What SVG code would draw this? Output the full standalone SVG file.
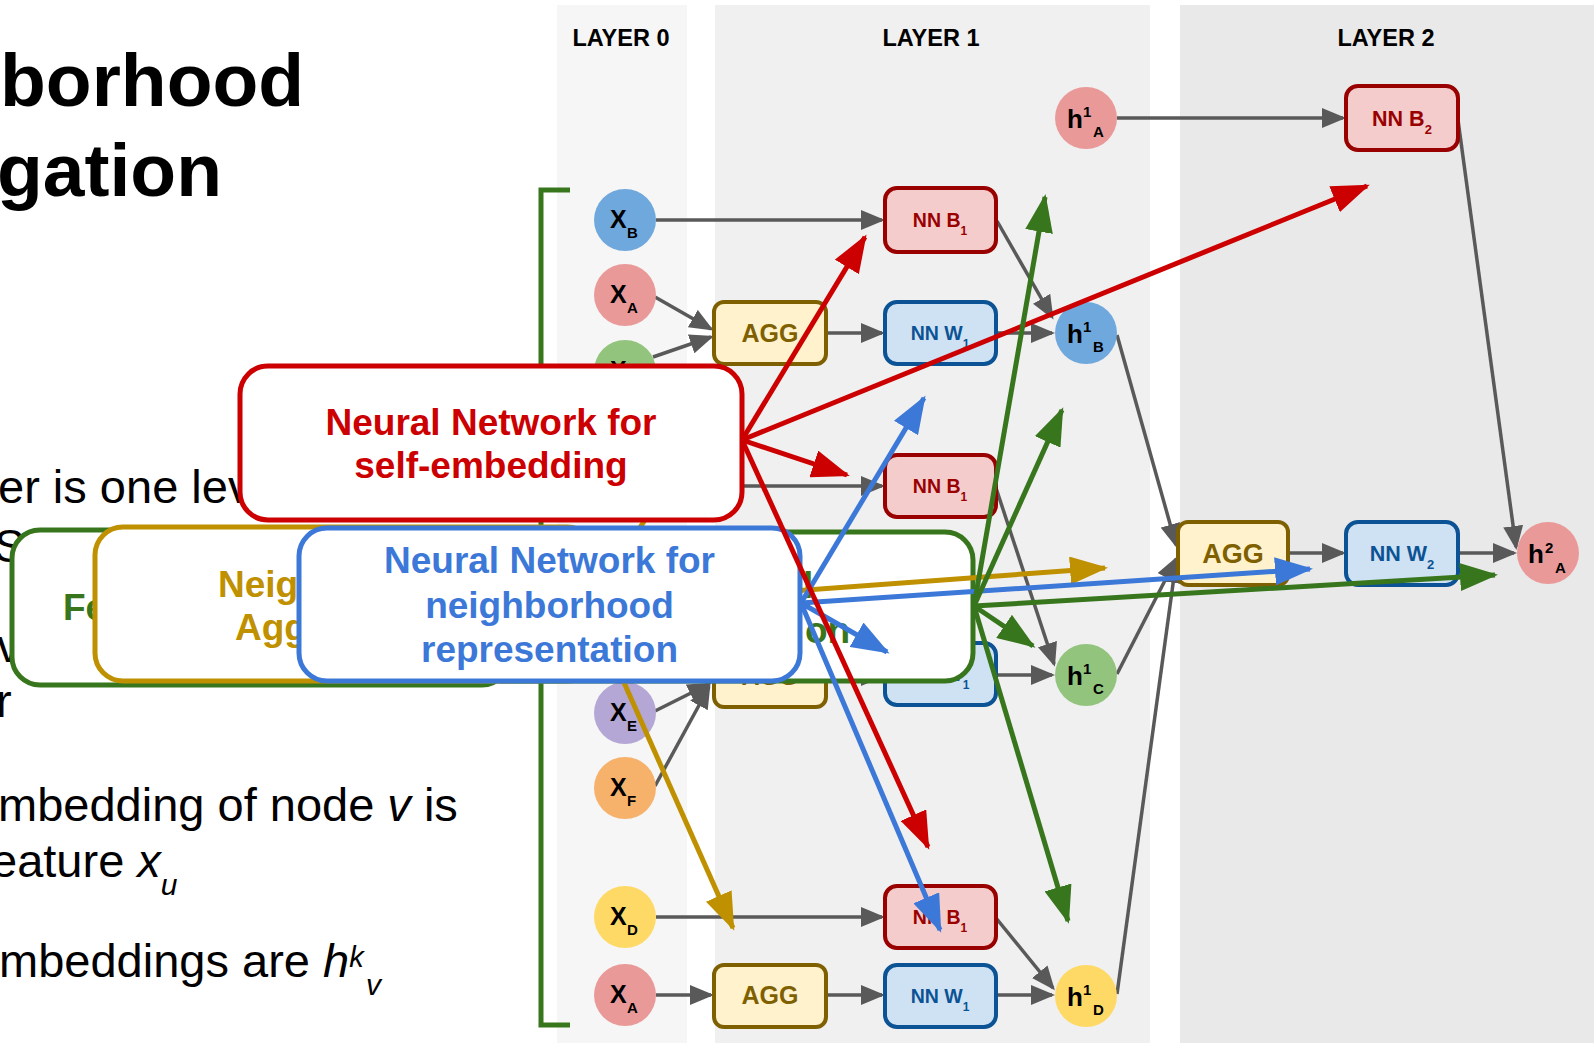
<svg xmlns="http://www.w3.org/2000/svg" width="1594" height="1043" viewBox="0 0 1594 1043">
  <defs>
    <style>
      .title { font-family: "Liberation Sans", Arial, sans-serif; font-weight: bold; font-size: 75px; fill: #000; }
      .body { font-family: "Liberation Sans", Arial, sans-serif; font-size: 47px; fill: #000; }
      .layer { font-family: "Liberation Sans", Arial, sans-serif; font-weight: bold; font-size: 23.5px; fill: #000; text-anchor: middle; }
      .lbl { font-family: "Liberation Sans", Arial, sans-serif; font-weight: bold; fill: #000; }
      .xl { font-size: 25px; }
      .hl { font-size: 26px; }
      .sm { font-size: 15px; }
      .nnb { fill: #f4cccc; stroke: #990000; stroke-width: 4; }
      .nnw { fill: #cfe2f3; stroke: #0b5394; stroke-width: 4; }
      .agg { fill: #fff2cc; stroke: #7f6000; stroke-width: 4; }
      .tb { font-family: "Liberation Sans", Arial, sans-serif; font-weight: bold; text-anchor: middle; }
      .tnnb { fill: #990000; }
      .tnnw { fill: #0b5394; }
      .tagg { fill: #7f6000; }
      .edge { fill: none; stroke: #595959; stroke-width: 3.5; marker-end: url(#ah-gray); }
      .call { fill: #fff; stroke-width: 5; }
      .ctext { font-family: "Liberation Sans", Arial, sans-serif; font-weight: bold; font-size: 37px; }
      .mid { text-anchor: middle; }
      .red-a { fill: none; stroke: #cc0000; stroke-width: 5; marker-end: url(#ah-red); }
      .blue-a { fill: none; stroke: #3c78d8; stroke-width: 5; marker-end: url(#ah-blue); }
      .gold-a { fill: none; stroke: #bf9000; stroke-width: 5; marker-end: url(#ah-gold); }
      .green-a { fill: none; stroke: #38761d; stroke-width: 5; marker-end: url(#ah-green); }
    </style>
    <marker id="ah-gray" markerUnits="userSpaceOnUse" markerWidth="24" markerHeight="20" refX="21" refY="10" orient="auto">
      <path d="M0,0 L24,10 L0,20 Z" fill="#595959"/>
    </marker>
    <marker id="ah-red" markerUnits="userSpaceOnUse" markerWidth="38" markerHeight="28" refX="35" refY="14" orient="auto">
      <path d="M0,0 L38,14 L0,28 Z" fill="#cc0000"/>
    </marker>
    <marker id="ah-blue" markerUnits="userSpaceOnUse" markerWidth="38" markerHeight="28" refX="35" refY="14" orient="auto">
      <path d="M0,0 L38,14 L0,28 Z" fill="#3c78d8"/>
    </marker>
    <marker id="ah-gold" markerUnits="userSpaceOnUse" markerWidth="38" markerHeight="28" refX="35" refY="14" orient="auto">
      <path d="M0,0 L38,14 L0,28 Z" fill="#bf9000"/>
    </marker>
    <marker id="ah-green" markerUnits="userSpaceOnUse" markerWidth="38" markerHeight="28" refX="35" refY="14" orient="auto">
      <path d="M0,0 L38,14 L0,28 Z" fill="#38761d"/>
    </marker>
  </defs>

  <rect x="0" y="0" width="1594" height="1043" fill="#ffffff"/>

  <!-- layer bands -->
  <g id="bands">
    <rect x="557" y="5" width="130" height="1038" fill="#f6f6f6"/>
    <rect x="715" y="5" width="435" height="1038" fill="#f0f0f0"/>
    <rect x="1180" y="5" width="414" height="1038" fill="#e9e9e9"/>
    <text class="layer" x="621" y="46">LAYER 0</text>
    <text class="layer" x="931" y="46">LAYER 1</text>
    <text class="layer" x="1386" y="46">LAYER 2</text>
  </g>

  <!-- slide text on the left -->
  <g id="slide-text">
    <text class="title" x="0" y="106">borhood</text>
    <text class="title" x="-3" y="196">gation</text>
    <text class="body" x="-2" y="503">er is one lev</text>
    <text class="body" x="-6" y="562">S</text>
    <text class="body" x="-3" y="662">v</text>
    <text class="body" x="-4" y="717">r</text>
    <text class="body" x="-2" y="821">mbedding of node <tspan font-style="italic">v</tspan> is</text>
    <text class="body" x="-9" y="877">eature <tspan font-style="italic">x</tspan><tspan font-style="italic" font-size="30" dy="18">u</tspan></text>
    <text class="body" x="-1" y="977">mbeddings are <tspan font-style="italic">h</tspan><tspan font-style="italic" font-size="29" dy="-10">k</tspan><tspan font-style="italic" font-size="30" x="366" y="995">v</tspan></text>
  </g>

  <!-- bracket around the layer-0 inputs -->
  <path id="bracket" d="M570,190 L541,190 L541,1025 L570,1025" fill="none" stroke="#38761d" stroke-width="5"/>

  <!-- graph edges -->
  <g id="connectors">
    <path class="edge" d="M656,220 L882,220"/>
    <path class="edge" d="M655,297 L711,329"/>
    <path class="edge" d="M653,357 L711,337"/>
    <path class="edge" d="M826,333 L882,333"/>
    <path class="edge" d="M996,333 L1052,333"/>
    <path class="edge" d="M997,221 L1052,317"/>
    <path class="edge" d="M742,486 L882,486"/>
    <path class="edge" d="M996,488 L1054,664"/>
    <path class="edge" d="M996,675 L1052,675"/>
    <path class="edge" d="M826,676 L882,676"/>
    <path class="edge" d="M655,711 L709,684"/>
    <path class="edge" d="M655,786 L709,687"/>
    <path class="edge" d="M656,917 L882,917"/>
    <path class="edge" d="M996,918 L1053,988"/>
    <path class="edge" d="M656,995 L711,995"/>
    <path class="edge" d="M826,995 L882,995"/>
    <path class="edge" d="M996,995 L1052,995"/>
    <path class="edge" d="M1117,118 L1343,118"/>
    <path class="edge" d="M1458,120 L1516,547"/>
    <path class="edge" d="M1117,335 L1176,545"/>
    <path class="edge" d="M1117,674 L1176,559"/>
    <path class="edge" d="M1117,994 L1176,562"/>
    <path class="edge" d="M1288,553 L1343,553"/>
    <path class="edge" d="M1458,553 L1514,553"/>
  </g>

  <!-- layer 0 inputs -->
  <g id="x-b-1"><circle cx="625" cy="220" r="31" fill="#6fa8dc"/><text class="lbl"><tspan class="xl" x="610" y="228">X</tspan><tspan class="sm" x="627" y="238">B</tspan></text></g>
  <g id="x-a-1"><circle cx="625" cy="295" r="31" fill="#ea9999"/><text class="lbl"><tspan class="xl" x="610" y="303">X</tspan><tspan class="sm" x="627" y="313">A</tspan></text></g>
  <g id="x-c-1"><circle cx="625" cy="371" r="31" fill="#93c47d"/><text class="lbl"><tspan class="xl" x="610" y="379">X</tspan><tspan class="sm" x="627" y="389">C</tspan></text></g>
  <g id="x-e"><circle cx="625" cy="713" r="31" fill="#b4a7d6"/><text class="lbl"><tspan class="xl" x="610" y="721">X</tspan><tspan class="sm" x="627" y="731">E</tspan></text></g>
  <g id="x-f"><circle cx="625" cy="788" r="31" fill="#f6b26b"/><text class="lbl"><tspan class="xl" x="610" y="796">X</tspan><tspan class="sm" x="627" y="806">F</tspan></text></g>
  <g id="x-d"><circle cx="625" cy="917" r="31" fill="#ffd966"/><text class="lbl"><tspan class="xl" x="610" y="925">X</tspan><tspan class="sm" x="627" y="935">D</tspan></text></g>
  <g id="x-a-3"><circle cx="625" cy="995" r="31" fill="#ea9999"/><text class="lbl"><tspan class="xl" x="610" y="1003">X</tspan><tspan class="sm" x="627" y="1013">A</tspan></text></g>

  <!-- layer 1 operators -->
  <g id="nnb-1"><rect class="nnb" x="885" y="188" width="111" height="64" rx="12"/><text class="tb tnnb" x="940" y="227" font-size="19.5">NN B<tspan font-size="12" dy="8">1</tspan></text></g>
  <g id="agg-1"><rect class="agg" x="714" y="302" width="112" height="62" rx="10"/><text class="tb tagg" x="770" y="342" font-size="25">AGG</text></g>
  <g id="nnw-1"><rect class="nnw" x="885" y="302" width="111" height="62" rx="12"/><text class="tb tnnw" x="940" y="340" font-size="19.5">NN W<tspan font-size="12" dy="8">1</tspan></text></g>
  <g id="nnb-2"><rect class="nnb" x="885" y="455" width="111" height="62" rx="12"/><text class="tb tnnb" x="940" y="493" font-size="19.5">NN B<tspan font-size="12" dy="8">1</tspan></text></g>
  <g id="agg-2"><rect class="agg" x="714" y="645" width="112" height="62" rx="10"/><text class="tb tagg" x="770" y="685" font-size="25">AGG</text></g>
  <g id="nnw-2"><rect class="nnw" x="885" y="643" width="111" height="62" rx="12"/><text class="tb tnnw" x="940" y="681" font-size="19.5">NN W<tspan font-size="12" dy="8">1</tspan></text></g>
  <g id="nnb-3"><rect class="nnb" x="885" y="886" width="111" height="62" rx="12"/><text class="tb tnnb" x="940" y="924" font-size="19.5">NN B<tspan font-size="12" dy="8">1</tspan></text></g>
  <g id="agg-3"><rect class="agg" x="714" y="965" width="112" height="62" rx="10"/><text class="tb tagg" x="770" y="1004" font-size="25">AGG</text></g>
  <g id="nnw-3"><rect class="nnw" x="885" y="965" width="111" height="62" rx="12"/><text class="tb tnnw" x="940" y="1003" font-size="19.5">NN W<tspan font-size="12" dy="8">1</tspan></text></g>

  <!-- layer 1 embeddings -->
  <g id="h1-a"><circle cx="1086" cy="118" r="31" fill="#ea9999"/><text class="lbl"><tspan class="hl" x="1067" y="128">h</tspan><tspan class="sm" x="1083" y="117">1</tspan><tspan class="sm" x="1093" y="137">A</tspan></text></g>
  <g id="h1-b"><circle cx="1086" cy="333" r="31" fill="#6fa8dc"/><text class="lbl"><tspan class="hl" x="1067" y="343">h</tspan><tspan class="sm" x="1083" y="332">1</tspan><tspan class="sm" x="1093" y="352">B</tspan></text></g>
  <g id="h1-c"><circle cx="1086" cy="675" r="31" fill="#93c47d"/><text class="lbl"><tspan class="hl" x="1067" y="685">h</tspan><tspan class="sm" x="1083" y="674">1</tspan><tspan class="sm" x="1093" y="694">C</tspan></text></g>
  <g id="h1-d"><circle cx="1086" cy="996" r="31" fill="#ffd966"/><text class="lbl"><tspan class="hl" x="1067" y="1006">h</tspan><tspan class="sm" x="1083" y="995">1</tspan><tspan class="sm" x="1093" y="1015">D</tspan></text></g>

  <!-- layer 2 -->
  <g id="nnb-l2"><rect class="nnb" x="1346" y="86" width="112" height="64" rx="12"/><text class="tb tnnb" x="1402" y="126" font-size="21.5">NN B<tspan font-size="13" dy="8">2</tspan></text></g>
  <g id="agg-l2"><rect class="agg" x="1178" y="522" width="110" height="63" rx="10"/><text class="tb tagg" x="1233" y="563" font-size="27">AGG</text></g>
  <g id="nnw-l2"><rect class="nnw" x="1346" y="522" width="112" height="63" rx="12"/><text class="tb tnnw" x="1402" y="561" font-size="21.5">NN W<tspan font-size="13" dy="8">2</tspan></text></g>
  <g id="h2-a"><circle cx="1548" cy="553" r="31" fill="#ea9999"/><text class="lbl"><tspan class="hl" x="1528" y="563">h</tspan><tspan class="sm" x="1545" y="553">2</tspan><tspan class="sm" x="1555" y="573">A</tspan></text></g>

  <!-- callout boxes, back to front -->
  <g id="callout-green-left">
    <rect class="call" x="12" y="530" width="498" height="155" rx="28" stroke="#38761d"/>
    <text class="ctext" x="63" y="620" fill="#38761d" font-size="35">Fe</text>
  </g>
  <g id="callout-gold">
    <rect class="call" x="95" y="527" width="500" height="154" rx="28" stroke="#bf9000"/>
    <text class="ctext" x="218" y="597" fill="#bf9000">Neig</text>
    <text class="ctext" x="235" y="640" fill="#bf9000">Agg</text>
  </g>
  <g id="callout-green-right">
    <rect class="call" x="473" y="532" width="500" height="149" rx="28" stroke="#38761d"/>
    <text class="ctext" x="803" y="598" fill="#38761d">l</text>
    <text class="ctext" x="805" y="643" fill="#38761d">on</text>
  </g>

  <g id="gold-arrows">
    <path class="gold-a" d="M590,606 L733,928"/>
    <path class="gold-a" d="M590,606 L1105,568"/>
    <path class="gold-a" d="M590,606 L715,410"/>
  </g>

  <g id="callout-blue">
    <rect class="call" x="299" y="528" width="501" height="153" rx="28" stroke="#3c78d8"/>
    <text class="ctext mid" x="549.5" y="573" fill="#3c78d8">Neural Network for</text>
    <text class="ctext mid" x="549.5" y="618" fill="#3c78d8">neighborhood</text>
    <text class="ctext mid" x="549.5" y="662" fill="#3c78d8">representation</text>
  </g>

  <g id="blue-arrows">
    <path class="blue-a" d="M801,603 L924,398"/>
    <path class="blue-a" d="M801,603 L1310,569"/>
    <path class="blue-a" d="M801,603 L887,652"/>
    <path class="blue-a" d="M801,603 L940,930"/>
  </g>

  <g id="callout-red">
    <rect class="call" x="240" y="366" width="502" height="154" rx="28" stroke="#cc0000"/>
    <text class="ctext mid" x="491" y="435" fill="#cc0000">Neural Network for</text>
    <text class="ctext mid" x="491" y="478" fill="#cc0000">self-embedding</text>
  </g>

  <g id="red-arrows">
    <path class="red-a" d="M742,440 L865,237"/>
    <path class="red-a" d="M742,440 L1367,186"/>
    <path class="red-a" d="M742,440 L847,475"/>
    <path class="red-a" d="M742,440 L928,847"/>
  </g>

  <g id="green-arrows">
    <path class="green-a" d="M974,606 L1045,197"/>
    <path class="green-a" d="M974,606 L1062,410"/>
    <path class="green-a" d="M974,606 L1033,646"/>
    <path class="green-a" d="M974,606 L1068,921"/>
    <path class="green-a" d="M974,606 L1495,575"/>
  </g>
</svg>
